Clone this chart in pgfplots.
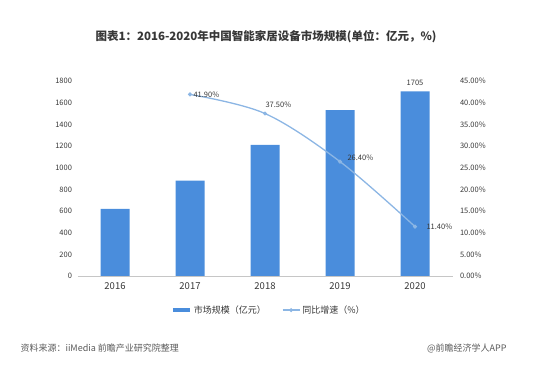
\documentclass[border=0pt]{standalone}
\usepackage{pgfplots}
\pgfplotsset{compat=1.18}
\usepackage{fontspec}
\setmainfont{Noto Sans CJK SC}
\definecolor{barblue}{RGB}{74,141,220}
\definecolor{lineblue}{RGB}{140,182,228}
\definecolor{txt}{RGB}{55,55,55}
\definecolor{srcgray}{RGB}{90,90,90}
\begin{document}
\begin{tikzpicture}
\path[use as bounding box] (0pt,0pt) rectangle (550pt,369pt);
\node[font=\bfseries\fontsize{11.5}{13}\selectfont, text=txt] at (266pt,332pt) {图表1：2016-2020年中国智能家居设备市场规模(单位：亿元，\%)};
\begin{axis}[at={(77.5pt,93pt)}, anchor=origin, scale only axis,
  width=375pt, height=195pt,
  xmin=0, xmax=5, ymin=0, ymax=1800,
  ytick={0,200,...,1800}, xtick={0.5,1.5,2.5,3.5,4.5},
  xticklabels={2016,2017,2018,2019,2020},
  axis y line*=left, axis x line*=bottom,
  y axis line style={draw=none},
  x axis line style={draw=gray!45, line width=0.6pt, -},
  tick style={draw=none},
  yticklabel style={font=\fontsize{7.5}{9}\selectfont, text=txt, xshift=-2pt},
  xticklabel style={font=\fontsize{9.5}{10}\selectfont, text=txt, yshift=-3pt},
  /pgf/number format/assume math mode=true,
  /pgf/number format/1000 sep={},
  clip=false]
\addplot[ybar, bar width=29pt, fill=barblue, draw=none] coordinates {(0.5,620) (1.5,880) (2.5,1210) (3.5,1530) (4.5,1705)};
\addplot[draw=none, mark=none, nodes near coords, point meta=explicit symbolic,
  nodes near coords style={font=\fontsize{7.5}{9}\selectfont, text=txt, anchor=south, yshift=2pt}]
  coordinates {(4.5,1705) [1705]};
\end{axis}
\begin{axis}[at={(77.5pt,93pt)}, anchor=origin, scale only axis,
  width=375pt, height=195pt,
  xmin=0, xmax=5, ymin=0, ymax=45,
  ytick={0,5,...,45},
  yticklabels={0.00\%,5.00\%,10.00\%,15.00\%,20.00\%,25.00\%,30.00\%,35.00\%,40.00\%,45.00\%},
  axis y line*=right, axis x line=none,
  y axis line style={draw=none}, tick style={draw=none},
  yticklabel style={font=\fontsize{7.5}{9}\selectfont, text=txt, xshift=4pt},
  clip=false,
  legend style={at={(0.51,-0.175)}, anchor=center, draw=none, fill=none,
    legend columns=2, font=\fontsize{9}{10}\selectfont, text=txt,
    /tikz/every even column/.append style={column sep=14pt}},
  legend cell align=left]
\addlegendimage{line legend, barblue, line width=4pt}
\addlegendentry{市场规模（亿元）}
\addplot[lineblue, line width=1.3pt, smooth, tension=0.55, mark=*, mark size=1.3pt,
  mark options={fill=lineblue, draw=lineblue}]
  coordinates {(1.5,41.9) (2.5,37.5) (3.5,26.4) (4.5,11.4)};
\addlegendentry{同比增速（\%）}
\addplot[draw=none, mark=none, forget plot, nodes near coords, point meta=explicit symbolic,
  nodes near coords style={font=\fontsize{7.5}{9}\selectfont, text=txt, anchor=west}]
  coordinates {(1.5,41.9) [41.90\%]};
\addplot[draw=none, mark=none, forget plot, nodes near coords, point meta=explicit symbolic,
  nodes near coords style={font=\fontsize{7.5}{9}\selectfont, text=txt, anchor=west, xshift=-3pt, yshift=9pt}]
  coordinates {(2.5,37.5) [37.50\%]};
\addplot[draw=none, mark=none, forget plot, nodes near coords, point meta=explicit symbolic,
  nodes near coords style={font=\fontsize{7.5}{9}\selectfont, text=txt, anchor=west, xshift=4pt, yshift=4pt}]
  coordinates {(3.5,26.4) [26.40\%]};
\addplot[draw=none, mark=none, forget plot, nodes near coords, point meta=explicit symbolic,
  nodes near coords style={font=\fontsize{7.5}{9}\selectfont, text=txt, anchor=west, xshift=8pt}]
  coordinates {(4.5,11.4) [11.40\%]};
\end{axis}
\node[anchor=west, font=\fontsize{9}{10}\selectfont, text=srcgray] at (17pt,21pt) {资料来源：iiMedia 前瞻产业研究院整理};
\node[anchor=east, font=\fontsize{9}{10}\selectfont, text=srcgray] at (510pt,21pt) {@前瞻经济学人APP};
\end{tikzpicture}
\end{document}
